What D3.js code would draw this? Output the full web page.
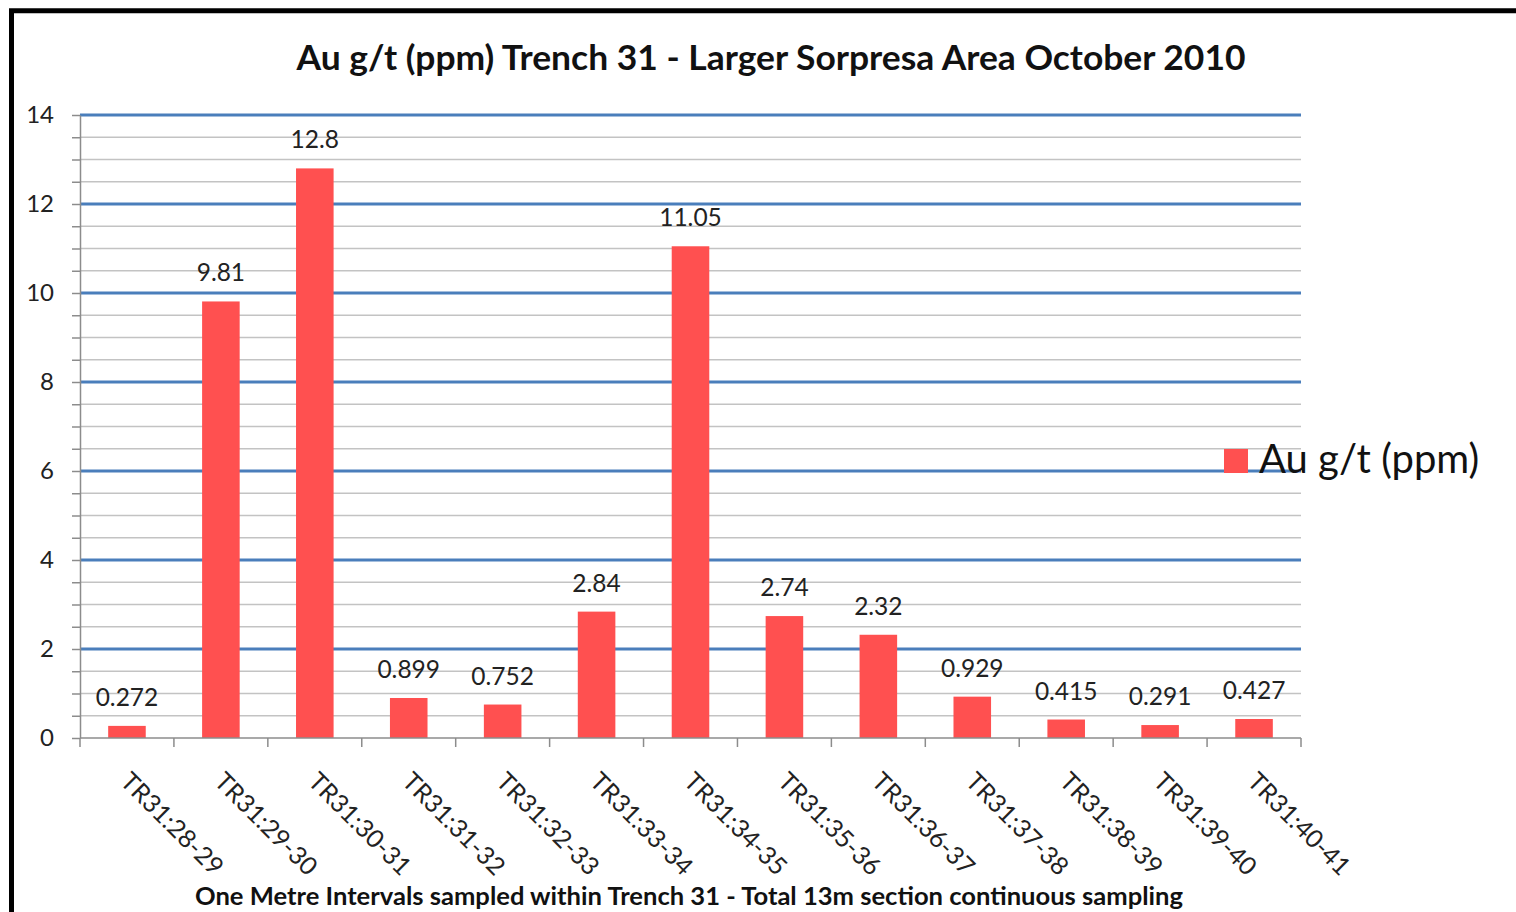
<!DOCTYPE html>
<html>
<head>
<meta charset="utf-8">
<script src="https://cdn.jsdelivr.net/npm/d3@7"></script>
<style>
  body { margin: 0; background: #fff; }
  svg { display: block; font-family: Lato, "Open Sans", sans-serif; }
</style>
</head>
<body>
<div class="chart"></div>
<script>
// samples along trench 31, one metre each
const categories = ['TR31:28-29', 'TR31:29-30', 'TR31:30-31', 'TR31:31-32', 'TR31:32-33',
  'TR31:33-34', 'TR31:34-35', 'TR31:35-36', 'TR31:36-37', 'TR31:37-38',
  'TR31:38-39', 'TR31:39-40', 'TR31:40-41']
const auValues = [0.272, 9.81, 12.8, 0.899, 0.752, 2.84, 11.05, 2.74, 2.32, 0.929, 0.415, 0.291, 0.427]
const majorTicks = [0, 2, 4, 6, 8, 10, 12, 14]
const minorTicks = [0.5, 1, 1.5, 2.5, 3, 3.5, 4.5, 5, 5.5, 6.5, 7, 7.5, 8.5, 9, 9.5,
  10.5, 11, 11.5, 12.5, 13, 13.5]

const title = 'Au g/t (ppm) Trench 31 - Larger Sorpresa Area October 2010'
const xTitle = 'One Metre Intervals sampled within Trench 31 - Total 13m section continuous sampling'
const seriesName = 'Au g/t (ppm)'

const width = 1516
const height = 912
const plot = { left: 80, right: 1301, top: 115, bottom: 738 }

const svg = d3.select('.chart').append('svg')
  .attr('width', width)
  .attr('height', height)

// frame round the chart (only top and left are in view)
svg.append('path')
  .attr('d', `M11.5,${height} V10.8 H${width}`)
  .attr('fill', 'none')
  .attr('stroke', '#000')
  .attr('stroke-width', 5)

const x = d3.scaleBand()
  .domain(categories)
  .range([plot.left, plot.right])
  .paddingInner(0.6)
  .paddingOuter(0.3)

const y = d3.scaleLinear()
  .domain([0, 14])
  .range([plot.bottom, plot.top])

// minor gridlines
svg.append('g')
  .selectAll('line')
  .data(minorTicks)
  .join('line')
    .attr('x1', plot.left).attr('x2', plot.right)
    .attr('y1', d => y(d)).attr('y2', d => y(d))
    .attr('stroke', '#c3c3c3')
    .attr('stroke-width', 1.5)

// major gridlines
svg.append('g')
  .selectAll('line')
  .data(majorTicks.filter(d => d > 0))
  .join('line')
    .attr('x1', plot.left).attr('x2', plot.right)
    .attr('y1', d => y(d)).attr('y2', d => y(d))
    .attr('stroke', '#4a7ebb')
    .attr('stroke-width', 3)

// y axis
const yAxis = d3.axisLeft(y)
  .tickValues(majorTicks.concat(minorTicks))
  .tickSize(8)
  .tickSizeOuter(0)
  .tickPadding(18)
  .tickFormat(d => majorTicks.includes(d) ? d : '')

const gy = svg.append('g')
  .attr('transform', `translate(${plot.left},0)`)
  .call(yAxis)
gy.select('.domain').attr('stroke', '#8c8c8c').attr('stroke-width', 1.5)
gy.selectAll('.tick line').attr('stroke', '#8c8c8c').attr('stroke-width', 1.5)
gy.selectAll('.tick text')
  .attr('font-size', 24)
  .attr('font-family', 'Lato')
  .attr('fill', '#222')

// bars
svg.append('g')
  .selectAll('rect')
  .data(auValues)
  .join('rect')
    .attr('x', (d, i) => x(categories[i]))
    .attr('y', d => y(d))
    .attr('width', x.bandwidth())
    .attr('height', d => y(0) - y(d))
    .attr('fill', '#ff5050')

// value labels
svg.append('g')
  .selectAll('text')
  .data(auValues)
  .join('text')
    .attr('x', (d, i) => x(categories[i]) + x.bandwidth() / 2)
    .attr('y', d => y(d) - 20)
    .attr('text-anchor', 'middle')
    .attr('font-size', 24.5)
    .attr('fill', '#222')
    .text(d => d)

// x axis baseline and boundary ticks
const gap = (x.step() - x.bandwidth()) / 2
const bounds = categories.map(c => x(c) - gap).concat([plot.right])
svg.append('line')
  .attr('x1', plot.left).attr('x2', plot.right)
  .attr('y1', y(0)).attr('y2', y(0))
  .attr('stroke', '#8c8c8c')
  .attr('stroke-width', 1.5)
svg.append('g')
  .selectAll('line')
  .data(bounds)
  .join('line')
    .attr('x1', d => d).attr('x2', d => d)
    .attr('y1', y(0)).attr('y2', y(0) + 9)
    .attr('stroke', '#8c8c8c')
    .attr('stroke-width', 1.5)

// rotated category labels
svg.append('g')
  .selectAll('text')
  .data(categories)
  .join('text')
    .attr('transform', d => `translate(${x(d) + x.bandwidth() / 2 - 8},${y(0) + 45}) rotate(45)`)
    .attr('font-size', 25)
    .attr('fill', '#222')
    .text(d => d)

// titles
svg.append('text')
  .attr('x', 771)
  .attr('y', 70)
  .attr('text-anchor', 'middle')
  .attr('font-size', 34)
  .attr('font-weight', 'bold')
  .attr('fill', '#111')
  .attr('textLength', 949)
  .attr('lengthAdjust', 'spacingAndGlyphs')
  .text(title)

svg.append('text')
  .attr('x', 689)
  .attr('y', 905)
  .attr('text-anchor', 'middle')
  .attr('font-size', 25)
  .attr('font-weight', 'bold')
  .attr('fill', '#111')
  .attr('textLength', 988)
  .attr('lengthAdjust', 'spacingAndGlyphs')
  .text(xTitle)

// legend
const legend = svg.append('g').attr('transform', 'translate(1224,449)')
legend.append('rect')
  .attr('width', 24)
  .attr('height', 24)
  .attr('fill', '#ff5050')
legend.append('text')
  .attr('x', 35)
  .attr('y', 24)
  .attr('font-size', 40)
  .attr('fill', '#111')
  .text(seriesName)
</script>
</body>
</html>
